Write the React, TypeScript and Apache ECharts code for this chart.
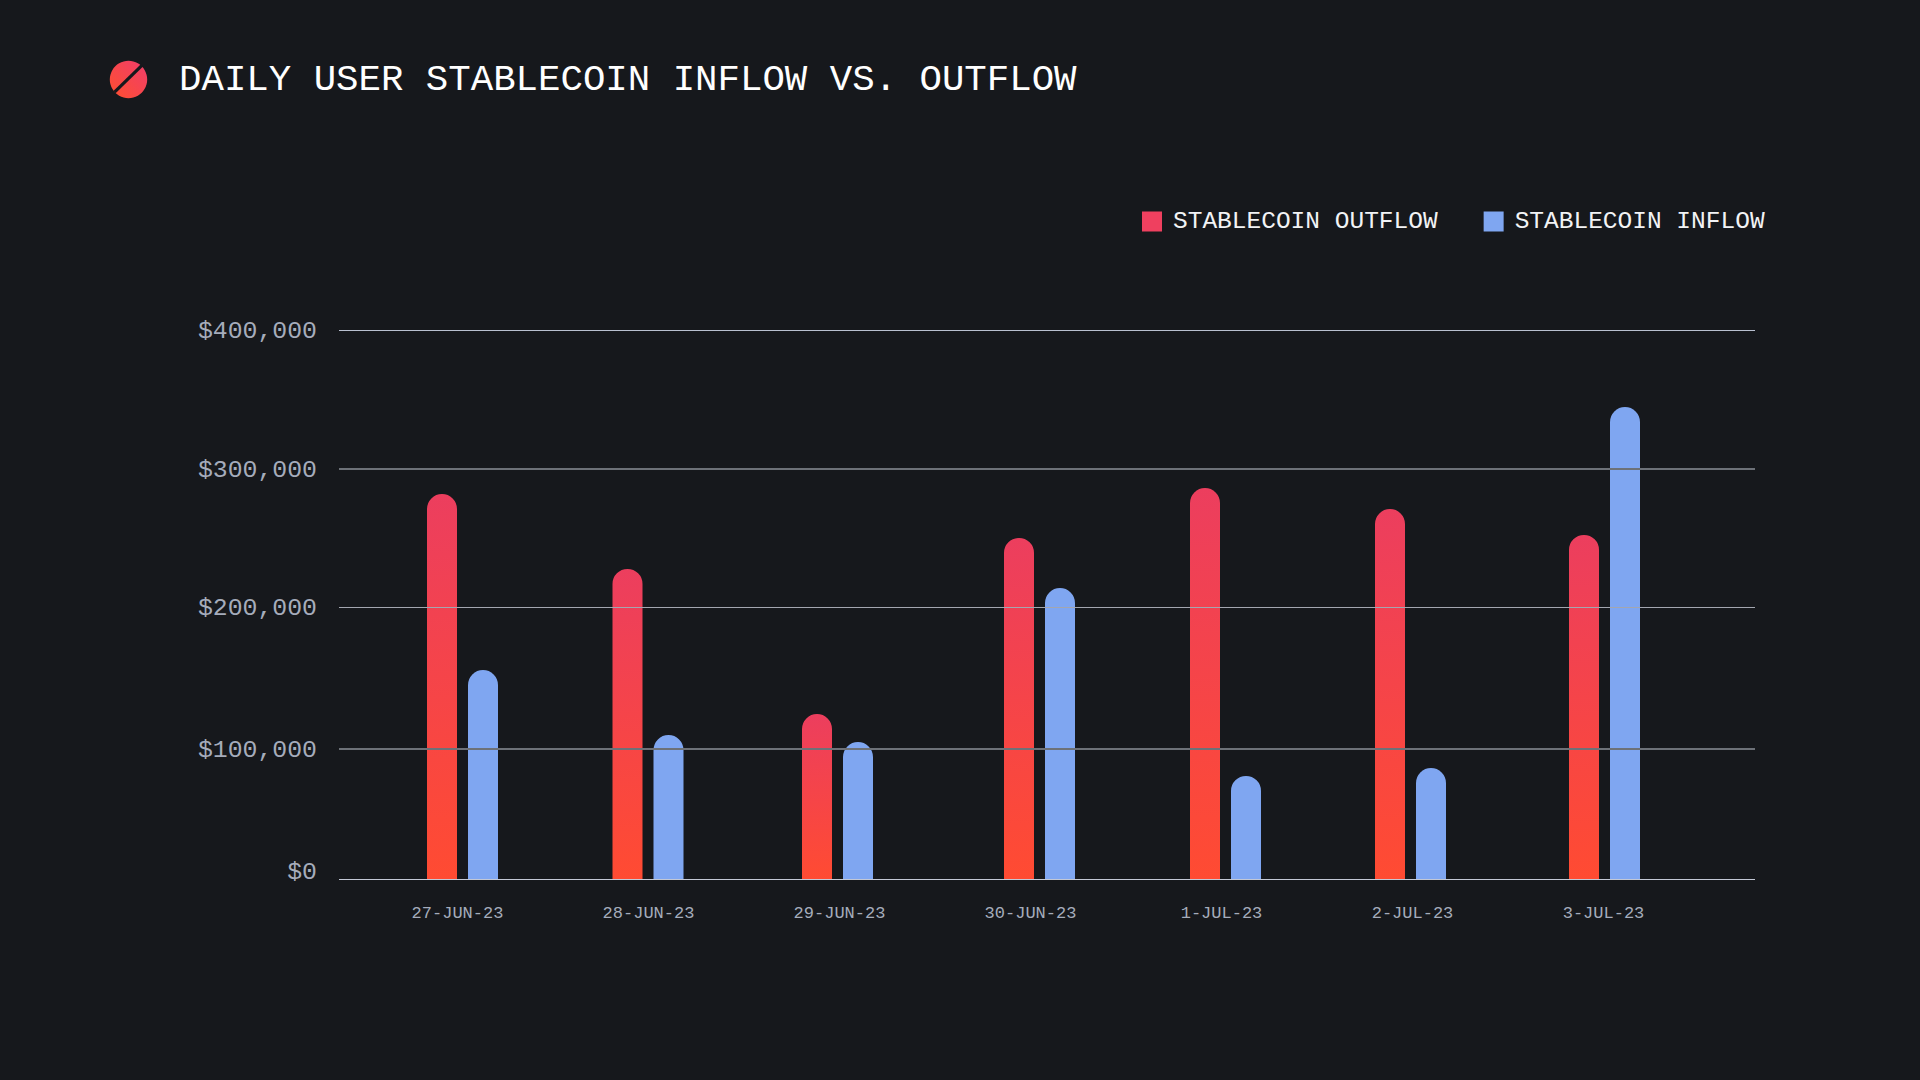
import React, { useEffect, useRef } from "react";
import * as echarts from "echarts";

const titleText = "DAILY USER STABLECOIN INFLOW VS. OUTFLOW";
const categories = ["27-JUN-23", "28-JUN-23", "29-JUN-23", "30-JUN-23", "1-JUL-23", "2-JUL-23", "3-JUL-23"];
const outflow = [280700, 226100, 120400, 248700, 285100, 269800, 250900];
const inflow = [152500, 105100, 100000, 212200, 75300, 81100, 344100];
const tickLabels = ["$0", "$100,000", "$200,000", "$300,000", "$400,000"];
// The reference's guide lines and labels are hand placed, not evenly spaced: where each sits on the 0-400k axis.
const labelLevels = [5500, 94500, 197500, 298200, 399300];
const lineLevels = [0, 95200, 198200, 298900, 400000];
const lineColors = ["#c3c8d6", "#6d7178", "#a3a6b0", "#6d7178", "#b9c0d0"];
const lineWidths = [1, 2, 1, 2, 1];
// Horizontal shift of each date's pair of bars from its band centre, as placed in the reference.
const groupNudge = [5, -0.5, -2, 9, 4, -2, 1];

const FONT = "'Liberation Mono', monospace";
const BG = "#16181c";
const BAR_W = 30;
const BAR_GAP = 11;

const makeRender = (side: number, fill: any) => (_: any, api: any) => {
  const idx = api.value(0);
  const top = api.coord([idx, api.value(1)]);
  const base = api.coord([idx, 0]);
  const cx = top[0] + groupNudge[idx];
  const x = side < 0 ? cx - BAR_GAP / 2 - BAR_W : cx + BAR_GAP / 2;
  return {
    type: "rect",
    shape: { x, y: top[1], width: BAR_W, height: base[1] - top[1], r: [BAR_W / 2, BAR_W / 2, 0, 0] },
    style: { fill },
  };
};

export default function App() {
  const ref = useRef<HTMLDivElement>(null);
  useEffect(() => {
    document.body.style.margin = "0";
    document.body.style.background = BG;
    const chart = echarts.init(ref.current!, undefined, { renderer: "svg" });
    const redGradient = new echarts.graphic.LinearGradient(0, 0, 0, 1, [
      { offset: 0, color: "#ec3e5e" },
      { offset: 1, color: "#ff4b32" },
    ]);
    const logoGradient = new echarts.graphic.LinearGradient(1, 0, 0, 1, [
      { offset: 0, color: "#ef3d6c" },
      { offset: 1, color: "#ff4f2e" },
    ]);
    const gridTop = 330.3;
    const gridHeight = 549;
    chart.setOption({
      animation: false,
      backgroundColor: BG,
      title: {
        text: titleText,
        left: 174,
        top: 56.5,
        textStyle: { color: "#ffffff", fontFamily: FONT, fontSize: 37.4, fontWeight: "normal" },
      },
      legend: {
        left: 1137,
        top: 204,
        itemWidth: 20,
        itemHeight: 20,
        itemGap: 46,
        icon: "rect",
        data: ["STABLECOIN OUTFLOW", "STABLECOIN INFLOW"],
        textStyle: { color: "#f2f3f5", fontFamily: FONT, fontSize: 24.5, padding: [0, 0, 0, 6] },
      },
      grid: [
        { left: 362, width: 1337, top: gridTop, height: gridHeight },
        { left: 339, width: 1416, top: gridTop, height: gridHeight },
      ],
      xAxis: [
        {
          type: "category",
          gridIndex: 0,
          data: categories,
          axisLine: { show: false },
          axisTick: { show: false },
          axisLabel: { color: "#a5acbb", fontFamily: FONT, fontSize: 17, margin: 26 },
        },
        { type: "category", gridIndex: 1, data: categories, show: false },
      ],
      yAxis: [
        { type: "value", gridIndex: 0, min: 0, max: 400000, show: false, splitLine: { show: false } },
        {
          type: "value",
          gridIndex: 1,
          min: 0,
          max: 400000,
          axisLine: { show: false },
          axisTick: { show: false },
          splitLine: { show: false },
          axisLabel: {
            customValues: labelLevels,
            formatter: (v: number) => tickLabels[labelLevels.indexOf(v)] ?? "",
            color: "#a5acbb",
            fontFamily: FONT,
            fontSize: 24.8,
            margin: 22,
          },
        },
      ],
      series: [
        {
          name: "STABLECOIN OUTFLOW",
          type: "custom",
          xAxisIndex: 0,
          yAxisIndex: 0,
          z: 2,
          clip: false,
          encode: { x: 0, y: 1 },
          itemStyle: { color: "#ef405f" },
          data: outflow.map((v, i) => [i, v]),
          renderItem: makeRender(-1, redGradient),
        },
        {
          name: "STABLECOIN INFLOW",
          type: "custom",
          xAxisIndex: 0,
          yAxisIndex: 0,
          z: 2,
          clip: false,
          encode: { x: 0, y: 1 },
          itemStyle: { color: "#7fa6f1" },
          data: inflow.map((v, i) => [i, v]),
          renderItem: makeRender(1, "#7fa6f1"),
        },
        {
          name: "guides",
          type: "line",
          xAxisIndex: 1,
          yAxisIndex: 1,
          data: [],
          markLine: {
            silent: true,
            symbol: "none",
            z: 5,
            label: { show: false },
            data: lineLevels.map((v, i) => ({
              yAxis: v,
              lineStyle: { type: "solid", color: lineColors[i], width: lineWidths[i], opacity: 1 },
            })),
          },
        },
      ],
      graphic: [
        { type: "circle", shape: { cx: 128.5, cy: 79.5, r: 18.7 }, style: { fill: logoGradient } },
        {
          type: "line",
          shape: { x1: 114.5, y1: 92.2, x2: 142.2, y2: 65.2 },
          style: { stroke: BG, lineWidth: 3.2 },
        },
      ],
    });
    return () => chart.dispose();
  }, []);
  return <div ref={ref} style={{ position: "absolute", left: 0, top: 0, width: 1920, height: 1080 }} />;
}
